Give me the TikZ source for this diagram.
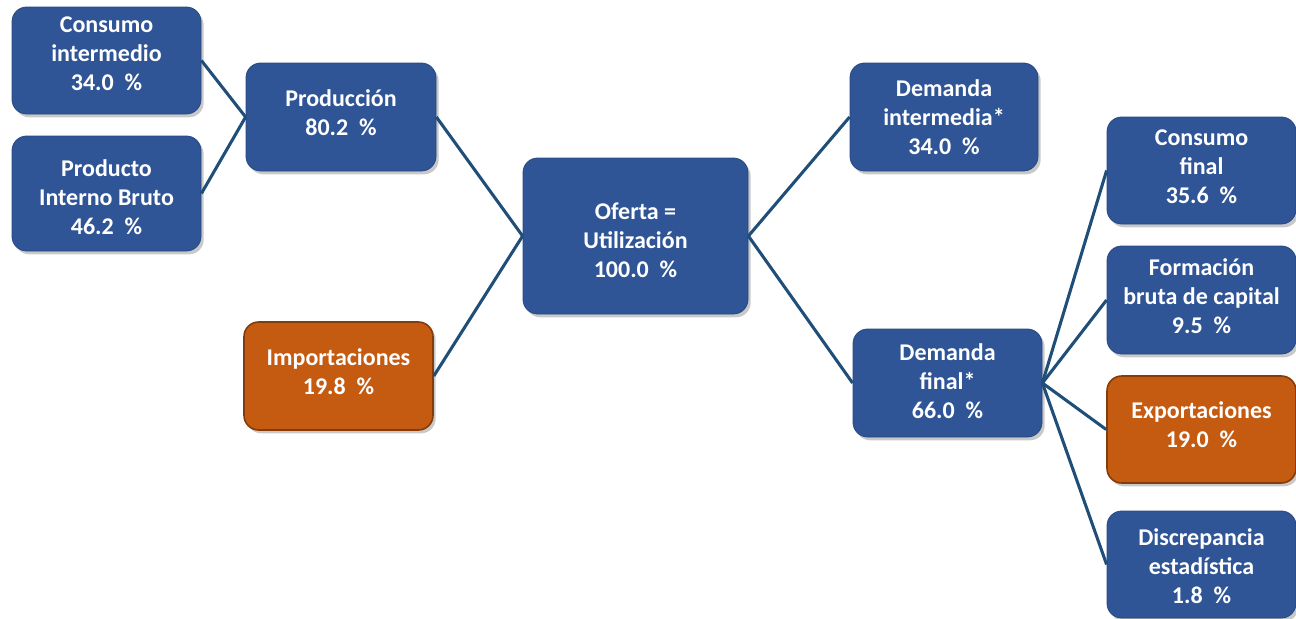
\documentclass[tikz,border=0pt]{standalone}
\usepackage{fontspec}
\setmainfont{Carlito}
\usetikzlibrary{shadows}
\definecolor{boxblue}{HTML}{2F5597}
\definecolor{boxorange}{HTML}{C55A11}
\definecolor{orangeborder}{HTML}{843C0C}
\definecolor{linkblue}{HTML}{1F4E79}
\begin{document}
\begin{tikzpicture}[x=0.75pt,y=-0.75pt,
  box/.style={rounded corners=11pt, fill=boxblue, draw=boxblue!85!black, line width=0.6pt,
    inner sep=0pt,
    drop shadow={shadow xshift=2pt, shadow yshift=-2.5pt, opacity=0.3, fill=black!70}},
  obox/.style={box, fill=boxorange, draw=orangeborder, line width=1.2pt},
  txt/.style={text=white, font=\bfseries\fontsize{18}{21.75}\selectfont, align=center, inner sep=0pt},
  wh/.style 2 args={minimum width={#1*0.75pt}, minimum height={#2*0.75pt}},
  link/.style={draw=linkblue, line width=2.3pt}]
\useasboundingbox (0,0) rectangle (1296,618);
\node[box, wh={189}{107}] (ci) at (106.5,60.5) {};
\node[txt] (ci-t) at ([yshift=5.25pt]ci.center) {Consumo\\intermedio\\34.0~~\%};
\node[box, wh={189}{115}] (pib) at (106.5,193.5) {};
\node[txt] (pib-t) at ([yshift=-3pt]pib.center) {Producto\\Interno Bruto\\46.2~~\%};
\node[box, wh={190}{108}] (prod) at (341,117) {};
\node[txt] (prod-t) at ([yshift=3pt]prod.center) {Producción\\80.2~~\%};
\node[obox, wh={189}{108}] (imp) at (338.5,376) {};
\node[txt] (imp-t) at ([yshift=3pt]imp.center) {Importaciones\\19.8~~\%};
\node[box, wh={225}{156}] (of) at (635.5,236) {};
\node[txt] (of-t) at ([yshift=-3pt]of.center) {Oferta =\\Utilización\\100.0~~\%};
\node[box, wh={188}{108}] (di) at (944,117) {};
\node[txt] (di-t) at (di.center) {Demanda\\intermedia*\\34.0~~\%};
\node[box, wh={189}{108}] (df) at (947.5,383) {};
\node[txt] (df-t) at ([yshift=1.5pt]df.center) {Demanda\\final*\\66.0~~\%};
\node[box, wh={189}{107}] (cf) at (1201.5,170.5) {};
\node[txt] (cf-t) at ([yshift=3pt]cf.center) {Consumo\\final\\35.6~~\%};
\node[box, wh={189}{108}] (fb) at (1201.5,300) {};
\node[txt] (fb-t) at ([yshift=3pt]fb.center) {Formación\\bruta de capital\\9.5~~\%};
\node[obox, wh={189}{107}] (ex) at (1201.5,429.5) {};
\node[txt] (ex-t) at ([yshift=3.75pt]ex.center) {Exportaciones\\19.0~~\%};
\node[box, wh={189}{107}] (de) at (1201.5,564.5) {};
\node[txt] (de-t) at ([yshift=-1.5pt]de.center) {Discrepancia\\estadística\\1.8~~\%};
\draw[link] (ci.east) -- (prod.west);
\draw[link] (pib.east) -- (prod.west);
\draw[link] (prod.east) -- (of.west);
\draw[link] (imp.east) -- (of.west);
\draw[link] (of.east) -- (di.west);
\draw[link] (of.east) -- (df.west);
\draw[link] (df.east) -- (cf.west);
\draw[link] (df.east) -- (fb.west);
\draw[link] (df.east) -- (ex.west);
\draw[link] (df.east) -- (de.west);
\end{tikzpicture}
\end{document}
